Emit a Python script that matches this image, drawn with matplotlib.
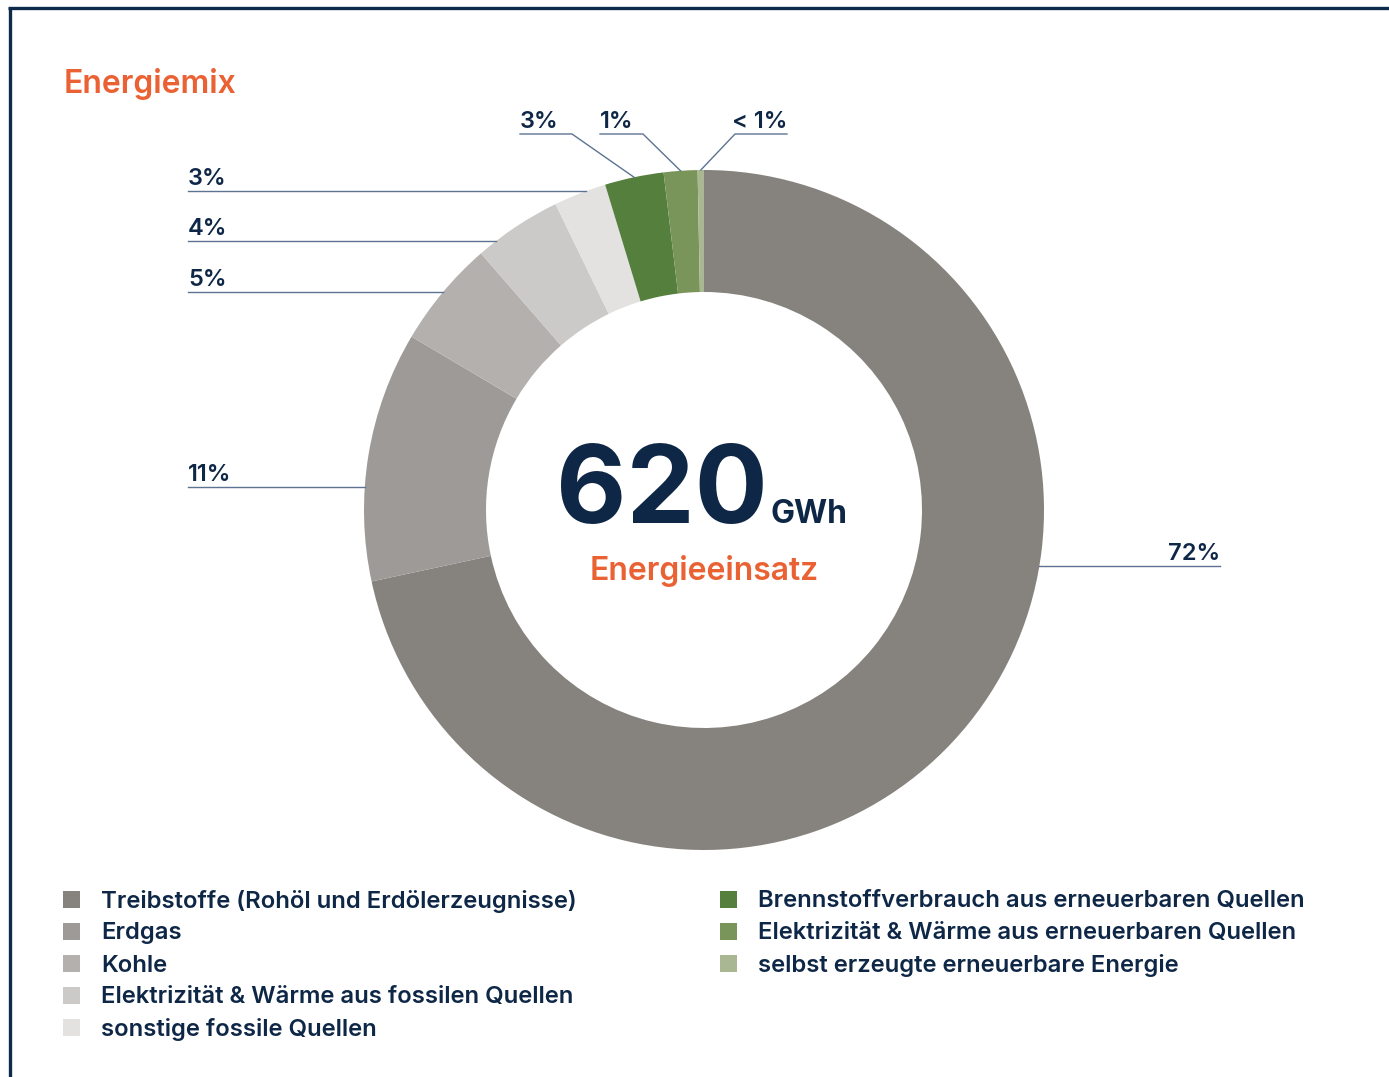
import numpy as np
import matplotlib
matplotlib.use("Agg")
import matplotlib.pyplot as plt
from matplotlib.patches import Rectangle
from matplotlib.lines import Line2D

plt.rcParams['font.family'] = ['Inter', 'DejaVu Sans']

# ---- data ----
categories = [
    "Treibstoffe (Rohöl und Erdölerzeugnisse)",
    "Erdgas",
    "Kohle",
    "Elektrizität & Wärme aus fossilen Quellen",
    "sonstige fossile Quellen",
    "Brennstoffverbrauch aus erneuerbaren Quellen",
    "Elektrizität & Wärme aus erneuerbaren Quellen",
    "selbst erzeugte erneuerbare Energie",
]
shares = [71.7, 11.9, 5.1, 4.2, 2.5, 2.8, 1.6, 0.3]
pct_labels = ["72%", "11%", "5%", "4%", "3%", "3%", "1%", "< 1%"]
colors = ["#86837e", "#9e9a97", "#b4b0ad", "#cbcac8", "#e3e2e1",
          "#547f3c", "#7a955a", "#a9b893"]
total_value = "620"
total_unit = "GWh"
total_caption = "Energieeinsatz"
title = "Energiemix"

NAVY = "#0f2747"
ORANGE = "#ea6133"
LEADER = "#5c7392"

W, H = 1389, 1077
fig = plt.figure(figsize=(W / 100, H / 100), dpi=100)
ax = fig.add_axes([0, 0, 1, 1])

def Y(y):
    return H - y

cx, cy, R, ring = 704, 510, 340, 122
wedges, _ = ax.pie(shares, colors=colors, startangle=90, counterclock=False,
                   center=(cx, Y(cy)), radius=R,
                   wedgeprops=dict(width=ring, linewidth=0))
ax.set_xlim(0, W)
ax.set_ylim(0, H)
ax.set_aspect('auto')
ax.axis('off')

def mid_point(w):
    a = np.deg2rad((w.theta1 + w.theta2) / 2)
    return cx + R * np.cos(a), Y(cy) + R * np.sin(a)

lab_kw = dict(color=NAVY, fontsize=17, fontweight='semibold')
lw = 1.0

# left labels (horizontal leaders to circle)
left = {1: 487, 2: 292, 3: 241, 4: 191}
for i, yl in left.items():
    dy = cy - yl
    xe = cx - np.sqrt(R**2 - dy**2)
    ax.plot([188, xe], [Y(yl), Y(yl)], color=LEADER, lw=lw)
    ax.text(188, Y(yl) + 6, pct_labels[i], ha='left', va='baseline', **lab_kw)

# right label (72%)
yl = 566
dy = cy - yl
xs = cx + np.sqrt(R**2 - dy**2)
ax.plot([xs, 1220], [Y(yl), Y(yl)], color=LEADER, lw=lw)
ax.text(1220, Y(yl) + 6, pct_labels[0], ha='right', va='baseline', **lab_kw)

# top labels
ytop = 134
top = [(5, 520, 572, 'left'), (6, 600, 643, 'left'), (7, 787, 735, 'right')]
for i, xt, xk, ha in top:
    mx, my = mid_point(wedges[i])
    ax.plot([xt, xk, mx], [Y(ytop), Y(ytop), my], color=LEADER, lw=lw)
    ax.text(xt, Y(ytop) + 6, pct_labels[i], ha=ha, va='baseline', **lab_kw)

# center text
ax.text(768, Y(523), total_value, ha='right', va='baseline', color=NAVY,
        fontsize=78, fontweight='bold')
ax.text(771, Y(523), total_unit, ha='left', va='baseline', color=NAVY,
        fontsize=23, fontweight='bold')
ax.text(704, Y(580), total_caption, ha='center', va='baseline', color=ORANGE,
        fontsize=23, fontweight='semibold')

# title
ax.text(64, Y(93), title, ha='left', va='baseline', color=ORANGE,
        fontsize=23, fontweight='semibold')

# legend
rows = [899, 931, 963, 995, 1027]
for k, (lab, col) in enumerate(zip(categories, colors)):
    if k < 5:
        xs_, yc = 63, rows[k]
        xt = 101
    else:
        xs_, yc = 720, rows[k - 5]
        xt = 758
    ax.add_patch(Rectangle((xs_, Y(yc) - 8.5), 17, 17, facecolor=col,
                           edgecolor='none'))
    ax.text(xt, Y(yc), lab, ha='left', va='center_baseline', color=NAVY,
            fontsize=17.2, fontweight='semibold')

# frame
ax.add_line(Line2D([9.5, 9.5], [0, Y(7.5)], color="#0d2a4a", lw=2.4,
                   solid_capstyle='butt'))
ax.add_line(Line2D([8.3, W], [Y(7.5), Y(7.5)], color="#0d2a4a", lw=2.4,
                   solid_capstyle='butt'))

fig.savefig("out.png", dpi=100, facecolor='white')
